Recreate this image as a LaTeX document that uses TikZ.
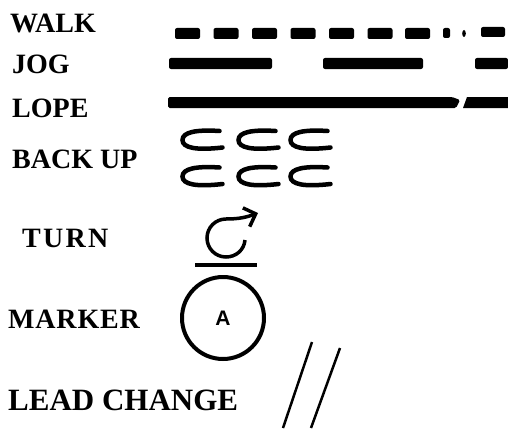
\documentclass[tikz,border=0pt]{standalone}
\usepackage{fontspec}
\setmainfont{Liberation Serif}
\setsansfont{Liberation Sans}
\usepackage{tikz}
\usetikzlibrary{arrows.meta,calc,positioning}

\tikzset{
  gait/.style={anchor=base west, inner sep=0pt, font=\fontsize{28}{30}\selectfont\bfseries},
  bar/.style={fill=black, rounded corners=2pt},
  backc/.style={line width=4.5pt, line cap=round},
}

\begin{document}
\begin{tikzpicture}[x=1pt,y=-1pt]
        \useasboundingbox (0,0) rectangle (508,428);
        % Labels
        \node[gait] (walk) at (10,33) {WALK};
        \node[gait] (jog) at (12,73) {JOG};
        \node[gait] (lope) at (12,117) {LOPE};
        \node[gait] (backup) at (12,168) {BACK UP};
        \node[gait, font=\fontsize{28}{30}\selectfont\bfseries\addfontfeature{LetterSpace=8}] (turn) at (22,247) {TURN};
        \node[gait, font=\fontsize{28}{30}\selectfont\bfseries\addfontfeature{LetterSpace=3}] (marker) at (8,328) {MARKER};
        \node[gait, font=\fontsize{31}{33}\selectfont\bfseries] (lead) at (8,410) {LEAD CHANGE};
        % walk dashes
        \foreach \x in {175,213.5,252,290.5,329,367.5,405}
          \fill[bar] (\x,28) rectangle ++(25,11);
        \fill[bar] (443,28) rectangle (450,38);
        \fill (464,33.5) ellipse (1.8 and 3.5);
        \fill[bar] (481,27) rectangle (505,37);
        % jog
        \fill[bar] (169,58) rectangle (272,69);
        \fill[bar] (323,58) rectangle (423,69);
        \fill[bar] (475,58) rectangle (508,69);
        % lope
        \fill[rounded corners=1.5pt] (168,97) -- (452,97) -- (460,100) -- (456,108) -- (168,108) -- cycle;
        \fill (467,97) -- (508,97) -- (508,108) -- (463,108) -- cycle;
        % back up
        \foreach \cx in {182.5,238.5,290.5}
          \foreach \cy in {131,167.5}
            \draw[backc] (\cx+37,\cy) .. controls (\cx+14,\cy-1.5) and (\cx,\cy+1) .. (\cx,\cy+9)
              .. controls (\cx,\cy+17) and (\cx+14,\cy+19.5) .. (\cx+40,\cy+16.5);
        % turn
        \draw[line width=3.5pt, -{Straight Barb[length=10pt,width=20pt,line width=3.5pt]}]
          (245,240) to[out=-95,in=0] (226,257) to[out=180,in=-90] (207,238)
          to[out=90,in=180] (226,219) to[out=0,in=200] (258,213);
        \draw[line width=4pt] (195,265) -- (257,265);
        % marker
        \draw[line width=4pt] (223,318) circle (41);
        \node[font=\sffamily\bfseries\fontsize{21}{23}\selectfont] (markA) at (223,318) {A};
        % lead change
        \draw[line width=2.5pt] (312,342) -- (283,428);
        \draw[line width=2.5pt] (340,348) -- (311,428);
      \end{tikzpicture}
\end{document}
